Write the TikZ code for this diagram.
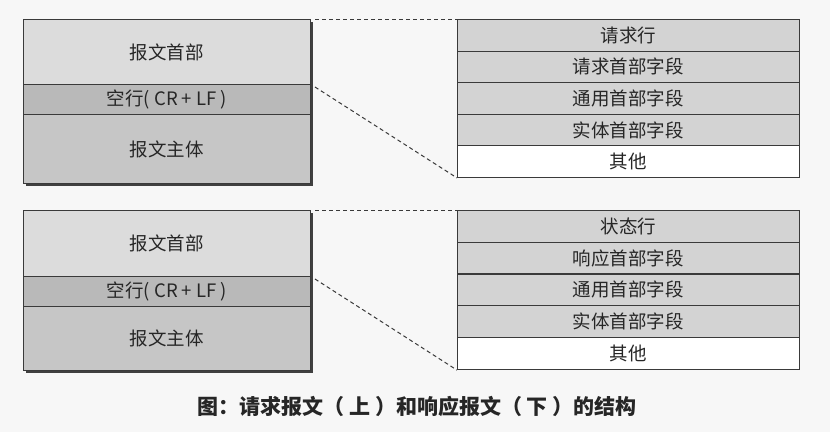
\documentclass[tikz,border=0pt]{standalone}
\usepackage{fontspec}
\newfontfamily\cjk{Noto Sans CJK SC}
\usetikzlibrary{positioning}
\definecolor{bgc}{HTML}{F7F7F7}
\definecolor{hdrc}{HTML}{DCDCDC}
\definecolor{blankc}{HTML}{B9B9B9}
\definecolor{bodyc}{HTML}{C6C6C6}
\definecolor{rowc}{HTML}{D3D3D3}
\definecolor{linec}{HTML}{3A3A3A}
\tikzset{
  cell/.style={draw=linec, line width=0.9pt, inner sep=0pt, anchor=north west,
    font=\cjk\fontsize{18.5}{18.5}\selectfont, text=black!85},
  lcell/.style={cell, minimum width=287pt},
  rcell/.style={cell, minimum width=342pt, minimum height=31.6pt},
  shadowbox/.style={fill=black!75},
  link/.style={draw=linec, line width=1pt, dash pattern=on 4pt off 3pt}
}
\begin{document}
\begin{tikzpicture}[x=1pt,y=-1pt]
\useasboundingbox[fill=bgc] (0,0) rectangle (830,432);
% ---- top (request) ----
\fill[shadowbox] (26,22) rectangle (313,186);
\node[lcell, fill=hdrc, minimum height=65pt] (qh) at (23,19) {报文首部};
\node[lcell, fill=blankc, minimum height=30pt] (qb) at (23,84) {空行( CR + LF )};
\node[lcell, fill=bodyc, minimum height=69pt] (qm) at (23,114) {报文主体};
\node[rcell, fill=rowc] (q1) at (457,19) {请求行};
\node[rcell, fill=rowc] (q2) at (457,50.6) {请求首部字段};
\node[rcell, fill=rowc] (q3) at (457,82.2) {通用首部字段};
\node[rcell, fill=rowc] (q4) at (457,113.8) {实体首部字段};
\node[rcell, fill=white] (q5) at (457,145.4) {其他};
\coordinate (qa) at (315,19);
\coordinate (qc) at (315,87);
\draw[link] (qa) -- (q1.north west);
\draw[link] (qc) -- (q5.south west);
% ---- bottom (response) ----
\fill[shadowbox] (26,213) rectangle (313,373);
\node[lcell, fill=hdrc, minimum height=66pt] (sh) at (23,210) {报文首部};
\node[lcell, fill=blankc, minimum height=30pt] (sb) at (23,276) {空行( CR + LF )};
\node[lcell, fill=bodyc, minimum height=64pt] (sm) at (23,306) {报文主体};
\node[rcell, fill=rowc] (s1) at (457,210) {状态行};
\node[rcell, fill=rowc] (s2) at (457,241.8) {响应首部字段};
\node[rcell, fill=rowc] (s3) at (457,273.6) {通用首部字段};
\node[rcell, fill=rowc] (s4) at (457,305.4) {实体首部字段};
\node[rcell, fill=white, minimum height=32pt] (s5) at (457,337.2) {其他};
\coordinate (sa) at (315,210);
\coordinate (sc) at (315,279);
\draw[link] (sa) -- (s1.north west);
\draw[link] (sc) -- (s5.south west);
% ---- caption ----
\node[font=\cjk\bfseries\fontsize{21}{21}\selectfont, text=black!85] (cap) at (417,406) {图：请求报文（ 上 ）和响应报文（ 下 ）的结构};
\end{tikzpicture}
\end{document}
